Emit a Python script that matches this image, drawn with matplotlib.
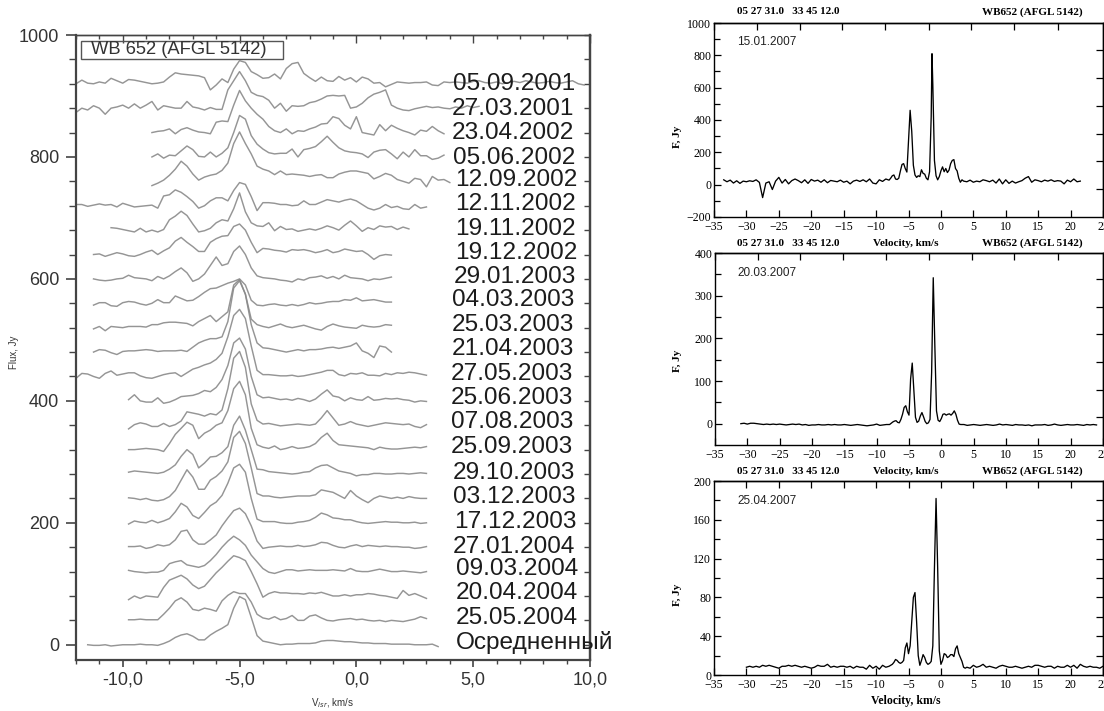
"""WB 652 (AFGL 5142) water maser spectra: monitoring stack and three 2007 spectra."""

import matplotlib
matplotlib.use("Agg")
import matplotlib.pyplot as plt

plt.rcParams["font.family"] = ["Liberation Sans", "DejaVu Sans"]

W, H = 1104, 711
SERIF = ["Liberation Serif", "DejaVu Serif"]

# left panel: every spectrum is sampled on this velocity list
velocity = [-12.0, -11.75, -11.5, -11.25, -11.0, -10.75, -10.5, -10.25, -10.0, -9.75, -9.5, -9.25,
            -9.0, -8.75, -8.5, -8.25, -8.0, -7.75, -7.5, -7.25, -7.0, -6.75, -6.5, -6.25,
            -6.0, -5.75, -5.5, -5.25, -5.0, -4.75, -4.5, -4.25, -4.0, -3.75, -3.5, -3.25,
            -3.0, -2.75, -2.5, -2.25, -2.0, -1.75, -1.5, -1.25, -1.0, -0.75, -0.5, -0.25,
            0.0, 0.25, 0.5, 0.75, 1.0, 1.25, 1.5, 1.75, 2.0, 2.25, 2.5, 2.75,
            3.0, 3.25, 3.5, 3.75, 4.0, 4.25, 4.5, 4.75, 5.0, 5.25, 5.5, 5.75,
            6.0, 6.25, 6.5, 6.75, 7.0, 7.25, 7.5, 7.75, 8.0, 8.25, 8.5, 8.75,
            9.0, 9.25, 9.5, 9.75, 10.0]

flux_050901 = [920, 926, 921, 920, 923, 921, 929, 925, 921, 927, 926, 924, 922, 920, 921, 923, 931, 938,
               936, 935, 934, 933, 930, 910, 918, 928, 922, 944, 958, 955, 940, 935, 929, 930, 936, 928,
               945, 953, 955, 937, 930, 924, 931, 925, 924, 932, 926, 930, 923, 931, 928, 921, 922, 915,
               919, 923, 922, 921, 922, 922, 923, 918, 917, 923, 922, 923, 922, 921, 924, 925, 922, 921,
               923, 920, 922, 924, 922, 925, 923, 921, 922, 924, 922, 921, 923, 925, 920, 918]
flux_270301 = [873, 880, 877, 884, 880, 870, 880, 882, 885, 880, 887, 880, 885, 891, 877, 884, 882, 880,
               880, 891, 882, 880, 877, 881, 878, 878, 910, 925, 940, 925, 906, 901, 899, 893, 880, 888,
               875, 884, 883, 884, 889, 891, 895, 900, 901, 900, 901, 880, 882, 888, 897, 903, 906, 910,
               885, 880, 877, 876, 879, 881, 883, 881, 882, 880, 879, 882, 880, 884, 881, 883]
flux_230402 = [840, 842, 843, 846, 838, 845, 848, 844, 841, 840, 838, 857, 859, 858, 885, 909, 892, 880,
               870, 862, 850, 843, 840, 846, 838, 843, 842, 846, 849, 854, 855, 866, 863, 852, 846, 866,
               840, 838, 836, 853, 843, 852, 847, 843, 840, 836, 844, 842, 850, 843, 838]
flux_050602 = [800, 805, 798, 803, 802, 810, 818, 812, 801, 800, 808, 800, 806, 815, 840, 868, 862, 835,
               821, 813, 807, 805, 806, 806, 813, 800, 812, 814, 817, 825, 834, 824, 815, 810, 808, 807,
               805, 799, 808, 811, 812, 805, 797, 808, 800, 812, 802, 802, 796, 798, 803]
flux_120902 = [753, 757, 762, 770, 780, 793, 785, 772, 762, 767, 770, 772, 778, 790, 822, 841, 822, 805,
               785, 780, 777, 771, 777, 771, 772, 771, 770, 768, 770, 771, 766, 766, 772, 775, 777, 777,
               775, 773, 764, 768, 773, 770, 763, 760, 757, 765, 763, 751, 768, 762, 763, 758]
flux_121102 = [722, 722, 719, 721, 723, 721, 722, 718, 724, 721, 718, 719, 720, 721, 716, 736, 738, 746,
               742, 735, 727, 716, 720, 728, 733, 733, 728, 745, 758, 755, 735, 712, 725, 725, 724, 722,
               722, 720, 721, 728, 722, 722, 726, 730, 728, 726, 729, 731, 728, 722, 716, 713, 716, 722,
               717, 719, 715, 714, 722, 716, 718]
flux_191102 = [684, 683, 681, 679, 677, 683, 677, 680, 677, 681, 697, 703, 711, 704, 690, 677, 679, 683,
               692, 697, 695, 715, 741, 710, 692, 687, 686, 692, 679, 686, 681, 682, 678, 680, 682, 680,
               683, 687, 684, 680, 688, 695, 687, 678, 684, 681, 687, 685, 686, 681, 685, 682]
flux_191202 = [640, 641, 637, 640, 643, 641, 638, 637, 640, 644, 647, 640, 646, 651, 662, 668, 660, 653,
               645, 645, 660, 666, 670, 671, 686, 690, 680, 660, 643, 650, 649, 647, 646, 644, 648, 647,
               648, 646, 643, 645, 648, 643, 645, 649, 647, 645, 646, 640, 632, 638, 640, 639]
flux_290103 = [600, 598, 597, 598, 600, 601, 606, 602, 601, 600, 597, 604, 600, 605, 612, 618, 610, 596,
               600, 608, 622, 636, 622, 625, 645, 654, 640, 618, 605, 602, 601, 600, 598, 597, 595, 600,
               598, 602, 603, 605, 601, 604, 600, 606, 602, 601, 600, 597, 600, 599, 601, 603]
flux_040303 = [557, 561, 561, 556, 555, 561, 563, 562, 559, 557, 560, 566, 561, 561, 572, 568, 564, 565,
               571, 578, 584, 585, 589, 593, 596, 600, 590, 565, 557, 556, 558, 559, 557, 556, 558, 556,
               558, 561, 559, 560, 562, 563, 563, 566, 565, 569, 564, 565, 566, 564, 562, 562]
flux_250303 = [518, 522, 515, 522, 521, 520, 522, 522, 522, 521, 525, 525, 528, 529, 529, 528, 527, 523,
               530, 535, 540, 530, 538, 546, 590, 599, 575, 534, 525, 522, 520, 523, 526, 522, 520, 522,
               524, 521, 518, 516, 522, 526, 523, 521, 520, 519, 524, 522, 521, 522, 525, 524]
flux_210403 = [480, 484, 483, 479, 476, 481, 482, 482, 483, 484, 483, 481, 482, 482, 482, 483, 481, 488,
               495, 499, 502, 502, 505, 530, 585, 597, 575, 525, 495, 487, 486, 484, 482, 480, 482, 484,
               482, 484, 484, 485, 487, 488, 486, 488, 490, 495, 482, 478, 471, 490, 488, 480]
flux_270503 = [437, 445, 444, 440, 437, 445, 449, 442, 444, 446, 446, 441, 438, 437, 440, 443, 445, 446,
               440, 446, 452, 455, 459, 462, 468, 478, 505, 540, 550, 535, 490, 450, 443, 443, 442, 441,
               441, 442, 440, 441, 443, 445, 447, 450, 450, 443, 441, 445, 444, 446, 442, 442, 441, 445,
               443, 446, 445, 447, 446, 444, 442]
flux_250603 = [402, 410, 400, 398, 398, 405, 396, 398, 402, 407, 408, 409, 412, 417, 415, 422, 435, 458,
               495, 503, 485, 440, 410, 405, 406, 404, 402, 403, 401, 404, 402, 399, 403, 411, 418, 408,
               406, 400, 405, 402, 401, 407, 401, 402, 404, 403, 404, 402, 401, 398, 400, 399]
flux_070803 = [354, 361, 364, 362, 358, 358, 363, 358, 361, 367, 382, 380, 378, 375, 379, 377, 385, 420,
               470, 481, 455, 395, 368, 362, 363, 361, 359, 360, 361, 362, 361, 360, 362, 372, 384, 372,
               360, 362, 366, 362, 360, 358, 360, 362, 364, 363, 362, 361, 362, 358, 356, 361]
flux_250903 = [320, 320, 321, 322, 321, 320, 317, 330, 345, 355, 365, 360, 338, 347, 352, 360, 364, 384,
               420, 432, 410, 355, 328, 324, 322, 326, 320, 322, 325, 322, 323, 325, 330, 340, 347, 335,
               328, 327, 326, 325, 324, 323, 320, 324, 322, 321, 321, 322, 323, 324, 323, 325]
flux_291003 = [283, 285, 284, 283, 282, 281, 283, 288, 295, 309, 320, 312, 290, 298, 308, 309, 315, 325,
               360, 375, 352, 320, 288, 287, 284, 283, 282, 281, 280, 281, 283, 284, 290, 294, 295, 290,
               285, 283, 281, 277, 279, 279, 281, 281, 280, 280, 281, 281, 280, 281, 282, 281]
flux_031203 = [241, 240, 238, 240, 237, 236, 238, 243, 253, 270, 287, 275, 255, 255, 270, 276, 285, 300,
               340, 350, 330, 290, 248, 244, 244, 242, 241, 242, 243, 244, 244, 244, 246, 254, 252, 250,
               245, 240, 253, 244, 238, 233, 240, 244, 242, 240, 242, 240, 243, 241, 240, 240]
flux_171203 = [198, 203, 201, 200, 204, 200, 203, 207, 218, 232, 226, 212, 207, 217, 228, 234, 245, 265,
               290, 296, 283, 240, 206, 202, 202, 202, 200, 199, 199, 201, 202, 204, 209, 216, 213, 208,
               207, 205, 205, 202, 200, 199, 200, 201, 202, 201, 201, 200, 200, 201, 199, 200]
flux_270104 = [161, 161, 162, 158, 160, 164, 162, 164, 172, 186, 188, 172, 165, 165, 172, 180, 195, 208,
               220, 224, 215, 195, 170, 158, 160, 161, 162, 161, 161, 163, 161, 162, 164, 168, 167, 163,
               160, 159, 162, 164, 161, 163, 162, 161, 162, 161, 161, 160, 160, 158, 159, 161]
flux_090304 = [122, 120, 119, 118, 119, 119, 122, 133, 136, 138, 131, 129, 127, 130, 138, 148, 160, 170,
               178, 172, 163, 147, 136, 125, 119, 117, 120, 123, 123, 121, 122, 123, 122, 122, 122, 123,
               122, 121, 125, 121, 120, 120, 122, 124, 122, 120, 120, 121, 120, 119, 118, 120]
flux_200404 = [74, 80, 76, 80, 79, 78, 94, 106, 110, 114, 108, 98, 92, 96, 107, 118, 127, 137,
               146, 143, 138, 120, 100, 78, 84, 87, 85, 85, 84, 84, 83, 85, 84, 86, 83, 80,
               80, 82, 80, 82, 82, 84, 83, 81, 80, 78, 76, 89, 81, 84, 80, 76]
flux_250504 = [41, 41, 42, 41, 41, 41, 50, 60, 72, 77, 70, 58, 56, 60, 58, 55, 72, 81,
               87, 84, 84, 70, 50, 44, 42, 46, 41, 43, 48, 40, 40, 47, 49, 44, 40, 39,
               41, 42, 43, 41, 42, 40, 39, 40, 38, 40, 39, 38, 40, 42, 46, 43]
flux_mean = [0, -1, -1, 0, -2, -1, 0, 0, 0, 1, 0, 0, -1, 2, 6, 12, 16, 18, 14, 8, 8, 16, 22, 27, 33,
             60, 79, 74, 45, 15, 6, 4, 2, 0, 1, 1, 2, 2, 2, 3, 6, 7, 7, 6, 5, 5, 4, 3, 3, 2, 2, 2,
             1, 1, 1, 1, 0, 0, 0, 1, -3]

traces = [flux_050901, flux_270301, flux_230402, flux_050602, flux_120902, flux_121102,
          flux_191102, flux_191202, flux_290103, flux_040303, flux_250303, flux_210403,
          flux_270503, flux_250603, flux_070803, flux_250903, flux_291003, flux_031203,
          flux_171203, flux_270104, flux_090304, flux_200404, flux_250504, flux_mean]
trace_start = [-12.0, -12.0, -8.75, -8.75, -8.75, -12.0, -10.5, -11.25, -11.25, -11.25, -11.25, -11.25,
               -12.0, -9.75, -9.75, -9.75, -9.75, -9.75, -9.75, -9.75, -9.75, -9.75, -9.75, -11.5]
trace_labels = ["05.09.2001", "27.03.2001", "23.04.2002", "05.06.2002", "12.09.2002", "12.11.2002",
                "19.11.2002", "19.12.2002", "29.01.2003", "04.03.2003", "25.03.2003", "21.04.2003",
                "27.05.2003", "25.06.2003", "07.08.2003", "25.09.2003", "29.10.2003", "03.12.2003",
                "17.12.2003", "27.01.2004", "09.03.2004", "20.04.2004", "25.05.2004", "Осредненный"]
label_px = [(453, 84), (452, 109), (452, 133), (453, 158), (455, 180), (455, 204),
            (455, 229), (455, 253), (454, 277), (452, 300), (452, 325), (452, 349),
            (451, 374), (451, 398), (451, 422), (451, 447), (453, 473), (453, 497),
            (454, 522), (453, 547), (456, 569), (456, 593), (456, 618), (456, 642)]

# right panels
v_jan = [-33.5, -33, -32.5, -32, -31.5, -31, -30.5, -30, -29.5, -29, -28.5, -28, -27.5, -27, -26.5, -26,
         -25.5, -25, -24.5, -24, -23.5, -23, -22.5, -22, -21.5, -21, -20.5, -20, -19.5, -19, -18.5, -18,
         -17.5, -17, -16.5, -16, -15.5, -15, -14.5, -14, -13.5, -13, -12.5, -12, -11.5, -11, -10.5, -10,
         -9.5, -9, -8.5, -8, -7.75, -7.5, -7.25, -7, -6.75, -6.5, -6.25, -6, -5.75, -5.5, -5.25, -5,
         -4.75, -4.5, -4.25, -4, -3.75, -3.5, -3.25, -3, -2.75, -2.5, -2.25, -2, -1.75, -1.5, -1.375, -1.25,
         -1, -0.75, -0.5, -0.25, 0, 0.25, 0.5, 0.75, 1, 1.25, 1.5, 1.75, 2, 2.25, 2.5, 2.75, 3, 3.25, 3.5,
         4, 4.5, 5, 5.5, 6, 6.5, 7, 7.5, 8, 8.5, 9, 9.5, 10, 10.5, 11, 11.5, 12, 12.5, 13, 13.5, 14, 14.5,
         15, 15.5, 16, 16.5, 17, 17.5, 18, 18.5, 19, 19.5, 20, 20.5, 21, 21.5]
f_jan = [30, 18, 28, 10, 24, 8, 22, 18, 24, 20, 30, 14, -80, 10, 18, -30,
         22, 45, 10, 32, 5, 25, 35, 25, 12, 30, 8, 32, 22, 28, 15, 30,
         12, 26, 22, 18, 28, 15, 22, 5, 22, 28, 20, 30, 18, 35, 10, 5,
         30, 20, 35, 28, 40, 55, 60, 35, 32, 40, 85, 125, 130, 100, 78, 270,
         460, 330, 120, 60, 45, 55, 50, 92, 70, 65, 40, 30, 80, 420, 810, 620,
         150, 55, 30, 50, 85, 110, 80, 100, 75, 90, 130, 150, 155, 100, 85, 40, 15, 30, 22,
         18, 28, 15, 22, 18, 30, 25, 18, 28, 10, 35, 5, 30, 8, 22, 10, 18, 25, 40, 50, 15, 30,
         25, 18, 28, 22, 30, 20, 25, 22, 5, 28, 18, 35, 18, 22]

v_mar = [-31, -30.5, -30, -29.5, -29, -28.5, -28, -27.5, -27, -26.5, -26, -25.5, -25, -24.5, -24, -23.5,
         -23, -22.5, -22, -21.5, -21, -20.5, -20, -19.5, -19, -18.5, -18, -17.5, -17, -16.5, -16, -15.5,
         -15, -14.5, -14, -13.5, -13, -12.5, -12, -11.5, -11, -10.5, -10, -9.5, -9, -8.5, -8,
         -7.75, -7.5, -7.25, -7, -6.75, -6.5, -6.25, -6, -5.75, -5.5, -5.25, -5, -4.75, -4.5, -4.25, -4,
         -3.75, -3.5, -3.25, -3, -2.75, -2.5, -2.25, -2, -1.75, -1.5, -1.25, -1, -0.75, -0.5, -0.25, 0,
         0.25, 0.5, 0.75, 1, 1.25, 1.5, 1.75, 2, 2.25, 2.5, 2.75, 3, 3.5,
         4, 4.5, 5, 5.5, 6, 6.5, 7, 7.5, 8, 8.5, 9, 9.5, 10, 10.5, 11, 11.5, 12, 12.5, 13, 13.5,
         14, 14.5, 15, 15.5, 16, 16.5, 17, 17.5, 18, 18.5, 19, 19.5, 20, 20.5, 21, 21.5, 22, 22.5, 23, 23.5, 24]
f_mar = [0, 1, -1, 1, 1, 0, -1, -2, -1, -2, -1, -2, -1, -2, -3, -2,
         -1, -2, -1, -3, -2, -4, -3, -3, -2, -3, -3, -2, -3, -2, -3, -3,
         -2, -3, -4, -3, -2, -3, -4, -5, -4, -3, -1, -4, -3, -2, -2,
         1, 4, 6, 7, 3, 2, 10, 22, 38, 42, 28, 20, 105, 142, 80, 15,
         3, 6, 18, 26, 16, 5, 0, 2, 10, 120, 342, 180, 30, 8, 5, 12,
         22, 23, 20, 22, 23, 20, 24, 30, 22, 8, -1, -2, -2,
         -4, -3, -2, -3, -4, -3, -2, -3, -4, -3, -1, -3, -2, -3, -4, -2, -3, -3, -4, -3,
         -5, -3, -3, -3, -2, -4, -3, -1, -3, -4, -3, -2, -3, -3, -2, -3, -4, -2, -3, -2, -3]

v_apr = [-30, -29.5, -29, -28.5, -28, -27.5, -27, -26.5, -26, -25.5, -25, -24.5, -24, -23.5, -23, -22.5,
         -22, -21.5, -21, -20.5, -20, -19.5, -19, -18.5, -18, -17.5, -17, -16.5, -16, -15.5, -15, -14.5,
         -14, -13.5, -13, -12.5, -12, -11.5, -11, -10.5, -10, -9.5, -9, -8.5, -8, -7.5,
         -7.25, -7, -6.75, -6.5, -6.25, -6, -5.75, -5.5, -5.25, -5, -4.75, -4.5, -4.25, -4,
         -3.75, -3.5, -3.25, -3, -2.75, -2.5, -2.25, -2, -1.75, -1.5, -1.25, -1, -0.75, -0.5, -0.25, 0,
         0.25, 0.5, 0.75, 1, 1.25, 1.5, 1.75, 2, 2.25, 2.5, 2.75, 3, 3.25, 3.5, 3.75,
         4, 4.5, 5, 5.5, 6, 6.5, 7, 7.5, 8, 8.5, 9, 9.5, 10, 10.5, 11, 11.5, 12, 12.5, 13, 13.5,
         14, 14.5, 15, 15.5, 16, 16.5, 17, 17.5, 18, 18.5, 19, 19.5, 20, 20.5, 21, 21.5, 22, 22.5, 23, 23.5, 24, 24.5, 25]
f_apr = [8, 9, 8, 9, 8, 10, 9, 10, 9, 8, 7, 9, 9, 10, 9, 10,
         9, 8, 9, 8, 7, 8, 10, 9, 9, 11, 8, 9, 8, 9, 9, 8,
         9, 7, 9, 8, 8, 6, 10, 7, 9, 6, 10, 8, 9, 11,
         13, 16, 15, 13, 12, 13, 15, 28, 33, 22, 30, 55, 80, 85,
         55, 20, 10, 15, 21, 18, 13, 11, 12, 14, 30, 110, 182, 110, 25, 11,
         15, 22, 21, 18, 19, 21, 21, 19, 27, 30, 22, 18, 14, 8, 7,
         8, 7, 10, 8, 9, 11, 8, 9, 8, 7, 9, 10, 9, 8, 8, 9, 8, 7, 8,
         9, 8, 10, 10, 9, 8, 9, 9, 7, 9, 8, 8, 10, 8, 10, 7, 11, 9, 8, 9, 8, 8, 7, 9]

panel_series = [(v_jan, f_jan), (v_mar, f_mar), (v_apr, f_apr)]
panel_dates = ["15.01.2007", "20.03.2007", "25.04.2007"]


def axes_px(fig, left, top, right, bottom):
    return fig.add_axes([left / W, 1 - bottom / H, (right - left) / W, (bottom - top) / H])


def text_px(fig, x, y, s, **kw):
    kw.setdefault("va", "center")
    return fig.text(x / W, 1 - y / H, s, **kw)


def stack_panel(fig):
    ax = axes_px(fig, 76, 35, 590, 660)
    for flux, start in zip(traces, trace_start):
        i0 = velocity.index(start)
        ax.plot(velocity[i0:i0 + len(flux)], flux, color="#8a8a8a", lw=1.05, alpha=0.9)
    ax.set_xlim(-12, 10)
    ax.set_ylim(-25, 1000)
    ax.set_xticks([-10, -5, 0, 5, 10], ["-10,0", "-5,0", "0,0", "5,0", "10,0"])
    ax.set_xticks(range(-12, 11), minor=True)
    ax.set_yticks([0, 200, 400, 600, 800, 1000])
    ax.set_yticks(range(0, 1001, 40), minor=True)
    ax.tick_params(which="major", length=5, width=1.2, color="#444444", labelsize=13,
                   labelcolor="#333333", pad=5)
    ax.tick_params(which="minor", length=3, width=1, color="#444444")
    ax.tick_params(axis="y", which="minor", length=5)
    ax.tick_params(axis="y", which="major", length=7)
    ax.tick_params(axis="x", which="major", pad=3)
    top = ax.secondary_xaxis("top")
    top.set_xticks([-10, -5, 0, 5, 10], [])
    top.set_xticks(range(-12, 11), minor=True)
    top.tick_params(which="both", direction="in", length=3, width=1, color="#444444")
    top.tick_params(which="major", length=6)
    right = ax.secondary_yaxis("right")
    right.set_yticks([0, 200, 400, 600, 800, 1000], [])
    right.set_yticks(range(0, 1001, 40), minor=True)
    right.tick_params(which="both", direction="in", length=4, width=1, color="#444444")
    for axis in (ax, top, right):
        for spine in axis.spines.values():
            spine.set_color("#444444")
            spine.set_linewidth(1.6)
    ax.spines["top"].set_linewidth(1.0)
    top.spines["top"].set_linewidth(1.0)

    ax.add_patch(plt.Rectangle((81 / W, 1 - 59 / H), 202 / W, 18 / H, transform=fig.transFigure,
                               fill=False, ec="#555555", lw=1.0, clip_on=False))
    text_px(fig, 91, 50, "WB 652 (AFGL 5142)", fontsize=13.2, color="#333333")
    for s, (x, y) in zip(trace_labels, label_px):
        text_px(fig, x, y, s, fontsize=17.6, color="#1c1c1c")
    text_px(fig, 14, 352, "Flux, Jy", fontsize=7, rotation=90, ha="center", color="#333333")
    text_px(fig, 332, 703, "V$_{lsr}$, km/s", fontsize=7, ha="center", color="#333333")


def spectrum_panel(fig, box, series, ylim, major, minor, top_ticks, right_ticks, tick_pad):
    ax = axes_px(fig, *box)
    ax.plot(series[0], series[1], color="black", lw=0.95)
    ax.set_xlim(-35, 25)
    ax.set_ylim(*ylim)
    ax.set_xticks(range(-35, 26, 5))
    ax.set_yticks(major)
    ax.set_yticks(minor, minor=True)
    for lab in ax.get_xticklabels() + ax.get_yticklabels():
        lab.set_family(SERIF)
    ax.tick_params(which="both", direction="in", width=0.9, labelsize=8.6)
    ax.tick_params(which="major", length=5)
    ax.tick_params(which="minor", length=4)
    ax.tick_params(axis="x", pad=tick_pad)
    ax.tick_params(axis="y", pad=2)
    top = ax.secondary_xaxis("top")
    top.set_xticks(top_ticks, [])
    top.tick_params(direction="in", length=5, width=0.9)
    right = ax.secondary_yaxis("right")
    right.set_yticks(right_ticks, [])
    right.tick_params(direction="in", length=5, width=0.9)
    for axis in (ax, top, right):
        for spine in axis.spines.values():
            spine.set_linewidth(1.0)


def main():
    fig = plt.figure(figsize=(W / 100, H / 100), dpi=100)
    stack_panel(fig)

    spectrum_panel(fig, (714, 23, 1103, 217), panel_series[0], (-200, 1000),
                   [-200, 0, 200, 400, 600, 800, 1000], [-100, 100, 300, 500, 700, 900],
                   [-35, -28.4, -21.8, -15.2, -8.6, -1.9, 4.7, 11.3, 18], [-29, 144, 315, 489, 660, 831], 3)
    spectrum_panel(fig, (715, 253, 1103, 445), panel_series[1], (-50, 400),
                   [0, 100, 200, 300, 400], [50, 150, 250, 350],
                   [-35, -28.4, -21.8, -15.2, -8.6, -1.9, 4.7, 11.3, 18], [15, 80, 144, 209, 274, 338], 3)
    spectrum_panel(fig, (714, 481, 1103, 675), panel_series[2], (0, 200),
                   [0, 40, 80, 120, 160, 200], [20, 60, 100, 140, 180],
                   list(range(-30, 25, 5)), list(range(20, 200, 20)), 3)

    for y, date in zip([42, 273, 501], panel_dates):
        text_px(fig, 737, y, date, fontsize=8.5, color="#222222")
    for y, with_velocity in zip([12, 243, 471], [False, True, True]):
        text_px(fig, 737, y, "05 27 31.0   33 45 12.0", fontsize=8, family=SERIF, weight="bold")
        text_px(fig, 982, y, "WB652 (AFGL 5142)", fontsize=8, family=SERIF, weight="bold")
        if with_velocity:
            text_px(fig, 906, y + 1, "Velocity, km/s", fontsize=8, family=SERIF, weight="bold", ha="center")
    text_px(fig, 906, 701, "Velocity, km/s", fontsize=8.5, family=SERIF, weight="bold", ha="center")
    for y in [137, 361, 595]:
        text_px(fig, 677, y, "F, Jy", fontsize=8, family=SERIF, weight="bold", rotation=90, ha="center")

    fig.savefig("out.png", dpi=100)
    plt.close(fig)


if __name__ == "__main__":
    main()
